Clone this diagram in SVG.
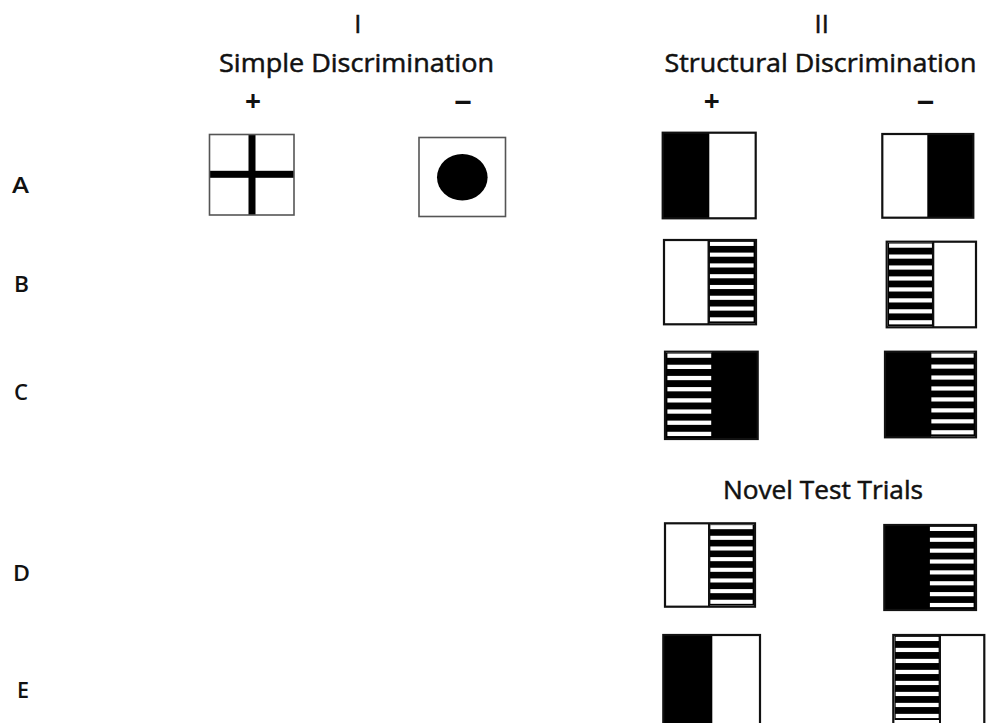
<svg xmlns="http://www.w3.org/2000/svg" xmlns:xlink="http://www.w3.org/1999/xlink" width="986" height="723" viewBox="0 0 986 723">
  <style>
    .hdr { font-family: "Open Sans", "Liberation Sans", sans-serif; font-size: 25.5px; font-weight: 400; fill: #111; stroke: #111; stroke-width: 0.5px; text-anchor: middle; }
    .sign { font-family: "Open Sans", "Liberation Sans", sans-serif; font-size: 28px; font-weight: 700; fill: #111; text-anchor: middle; }
    .row { font-family: "Open Sans", "Liberation Sans", sans-serif; font-size: 22px; font-weight: 600; fill: #111; }
    .sbox { fill: none; stroke: #555; stroke-width: 1.6; }
    .box { fill: none; stroke: #111; stroke-width: 2.2; }
    .blk { fill: #000; }
    .div { stroke: #111; stroke-width: 2; }
  </style>
  <defs>
    <symbol id="stripes" viewBox="0 0 100 100" preserveAspectRatio="none">
      <rect x="0" y="0" width="100" height="100" fill="#000"/>
      <g fill="#fff">
        <rect x="3" y="1" width="94" height="5"/>
        <rect x="3" y="14.1" width="94" height="5"/>
        <rect x="3" y="27.2" width="94" height="5"/>
        <rect x="3" y="40.3" width="94" height="5"/>
        <rect x="3" y="53.4" width="94" height="5"/>
        <rect x="3" y="66.5" width="94" height="5"/>
        <rect x="3" y="79.6" width="94" height="5"/>
        <rect x="3" y="92.7" width="94" height="5"/>
      </g>
    </symbol>
  </defs>
  <rect width="986" height="723" fill="#fff"/>

  <g id="headers">
    <text class="hdr" x="357.7" y="33">I</text>
    <text class="hdr" x="356.5" y="71.5" textLength="275" lengthAdjust="spacingAndGlyphs">Simple Discrimination</text>
    <text class="sign" x="253" y="111">+</text>
    <text class="sign" x="463" y="110" textLength="18" lengthAdjust="spacingAndGlyphs">–</text>
    <text class="hdr" x="821.7" y="33">II</text>
    <text class="hdr" x="820.5" y="71.5" textLength="312" lengthAdjust="spacingAndGlyphs">Structural Discrimination</text>
    <text class="sign" x="711.7" y="111">+</text>
    <text class="sign" x="925.5" y="110" textLength="18" lengthAdjust="spacingAndGlyphs">–</text>
    <text class="hdr" x="823" y="499.3" textLength="200" lengthAdjust="spacingAndGlyphs">Novel Test Trials</text>
  </g>

  <g id="row-labels">
    <text class="row" x="12" y="193" textLength="17" lengthAdjust="spacingAndGlyphs">A</text>
    <text class="row" x="14" y="292" textLength="15" lengthAdjust="spacingAndGlyphs">B</text>
    <text class="row" x="14" y="400" textLength="14" lengthAdjust="spacingAndGlyphs">C</text>
    <text class="row" x="13" y="581" textLength="17" lengthAdjust="spacingAndGlyphs">D</text>
    <text class="row" x="17" y="698" textLength="12" lengthAdjust="spacingAndGlyphs">E</text>
  </g>

  <g id="simple-plus">
    <rect x="209.5" y="134.5" width="84.5" height="80.5" fill="#fff"/>
    <rect x="248.5" y="134.5" width="7" height="80.5" class="blk"/>
    <rect x="209.5" y="170.8" width="84.5" height="7" class="blk"/>
    <rect x="209.5" y="134.5" width="84.5" height="80.5" class="sbox"/>
  </g>

  <g id="simple-minus">
    <rect x="419" y="137.5" width="86.5" height="79" fill="#fff" class="sbox"/>
    <ellipse cx="462.3" cy="177.3" rx="25.3" ry="23.3" class="blk"/>
  </g>

  <g id="A-plus">
    <rect x="662.7" y="132.7" width="46.6" height="85.6" class="blk"/>
    <rect x="662.7" y="132.7" width="93" height="85.6" class="box"/>
  </g>

  <g id="A-minus">
    <rect x="927.3" y="134" width="46" height="83.7" class="blk"/>
    <rect x="882.3" y="134" width="91" height="83.7" class="box"/>
  </g>

  <g id="B-plus">
    <use xlink:href="#stripes" x="708.5" y="241" width="46.5" height="82.3"/>
    <line x1="708.5" y1="240" x2="708.5" y2="324.3" class="div"/>
    <rect x="664" y="240" width="92" height="84.3" class="box"/>
  </g>

  <g id="B-minus">
    <use xlink:href="#stripes" x="887.7" y="242.7" width="45.6" height="83.6"/>
    <line x1="933.3" y1="241.7" x2="933.3" y2="327.3" class="div"/>
    <rect x="886.7" y="241.7" width="89.3" height="85.6" class="box"/>
  </g>

  <g id="C-plus">
    <use xlink:href="#stripes" x="666" y="352.7" width="46.7" height="85.3"/>
    <rect x="711.7" y="351.7" width="46" height="87.3" class="blk"/>
    <rect x="665" y="351.7" width="92.7" height="87.3" class="box"/>
  </g>

  <g id="C-minus">
    <rect x="885" y="351.7" width="46" height="85.6" class="blk"/>
    <use xlink:href="#stripes" x="930" y="352.7" width="45" height="83.6"/>
    <rect x="885" y="351.7" width="91" height="85.6" class="box"/>
  </g>

  <g id="D-plus">
    <use xlink:href="#stripes" x="709" y="524.3" width="45" height="81.4"/>
    <line x1="709" y1="523.3" x2="709" y2="606.7" class="div"/>
    <rect x="665" y="523.3" width="90" height="83.4" class="box"/>
  </g>

  <g id="D-minus">
    <rect x="884.3" y="525" width="45" height="85" class="blk"/>
    <use xlink:href="#stripes" x="928.5" y="526" width="46.5" height="83"/>
    <rect x="884.3" y="525" width="91.7" height="85" class="box"/>
  </g>

  <g id="E-plus">
    <rect x="663.3" y="635" width="49" height="92" class="blk"/>
    <rect x="663.3" y="635" width="96.7" height="92" class="box"/>
  </g>

  <g id="E-minus">
    <use xlink:href="#stripes" x="894.3" y="636" width="45.7" height="84"/>
    <line x1="940" y1="635" x2="940" y2="727" class="div"/>
    <rect x="893.3" y="635" width="91" height="92" class="box"/>
  </g>
</svg>
